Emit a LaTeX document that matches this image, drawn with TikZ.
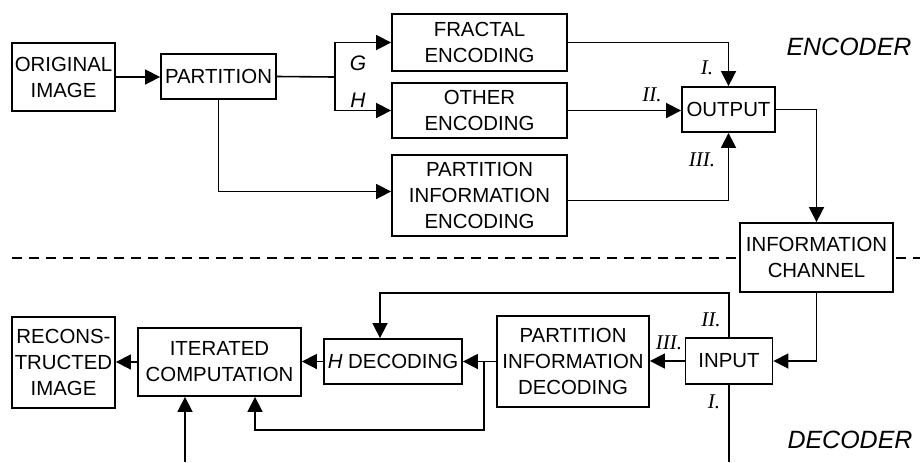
\documentclass[tikz,border=0pt]{standalone}
\usepackage{fontspec}
\setmainfont{Liberation Serif}
\setsansfont{Liberation Sans}
\usetikzlibrary{arrows.meta}
\usetikzlibrary{calc}

\begin{document}
\begin{tikzpicture}[x=0.5pt,y=-0.5pt,
  blk/.style={draw,line width=0.9pt,fill=white,align=center,inner sep=1pt,
    font=\sffamily\fontsize{10.2}{13}\selectfont},
  wire/.style={line width=0.8pt},
  flow/.style={wire,-{Triangle[length=7.5pt,width=7.5pt]}},
  lab/.style={font=\itshape\fontsize{10.5}{11}\selectfont},
  gh/.style={font=\sffamily\itshape\fontsize{10.5}{12}\selectfont},
  side/.style={font=\sffamily\itshape\fontsize{12.5}{14}\selectfont}]
\useasboundingbox (0,0) rectangle (920,462);
% separator encoder / decoder
\coordinate (sepl) at (12,258);
\coordinate (sepr) at (920,258);
\draw[wire,dash pattern=on 5pt off 3.5pt] (sepl) -- (sepr);
% encoder
\node[blk,minimum width=51.5pt,minimum height=34pt] (orig) at (63.5,77) {ORIGINAL\\IMAGE};
\node[blk,minimum width=57.5pt,minimum height=22.5pt] (part) at (218.5,76.5) {PARTITION};
\node[blk,minimum width=87.5pt,minimum height=28.5pt] (fract) at (479.5,42.5) {FRACTAL\\ENCODING};
\node[blk,minimum width=87.5pt,minimum height=27.5pt] (other) at (479.5,110.5) {OTHER\\ENCODING};
\node[blk,minimum width=87.5pt,minimum height=40.5pt] (pie) at (479.5,195.5) {PARTITION\\INFORMATION\\ENCODING};
\node[blk,minimum width=46.5pt,minimum height=22.5pt] (output) at (728.5,109.5) {OUTPUT};
\node[blk,minimum width=76.5pt,minimum height=34.5pt] (chan) at (816.5,257.5) {INFORMATION\\CHANNEL};
% decoder
\node[blk,minimum width=43.5pt,minimum height=23pt] (input) at (729,361) {INPUT};
\node[blk,minimum width=76pt,minimum height=45.5pt] (pid) at (573,361.5) {PARTITION\\INFORMATION\\DECODING};
\node[blk,minimum width=69pt,minimum height=22.5pt] (hdec) at (393,361.5) {\textit{H} DECODING};
\node[blk,minimum width=81.5pt,minimum height=34pt] (iter) at (219.5,362) {ITERATED\\COMPUTATION};
\node[blk,minimum width=51.5pt,minimum height=45.5pt] (recon) at (63.5,362.5) {RECONS-\\TRUCTED\\IMAGE};

\node[side] (enc) at (849,47) {ENCODER};
\node[side] (dec) at (850,440) {DECODER};
\node[gh] (g) at (358,63) {G};
\node[gh] (h) at (358,100) {H};
\node[lab] (e1) at (707,68) {I.};
\node[lab] (e2) at (652,95) {II.};
\node[lab] (e3) at (702,160) {III.};
\node[lab] (d2) at (711,320) {II.};
\node[lab] (d3) at (669,343) {III.};
\node[lab] (d1) at (714,402) {I.};

% encoder connectors
\draw[flow] (orig.east) -- (orig.east -| part.west);
\coordinate (split) at (335,77);
\draw[wire] (part.east) -- (split);
\draw[flow] (split) |- (fract.west);
\draw[flow] (split) |- (other.west);
\draw[flow] (part.south) |- ([yshift=2pt]pie.west);
\draw[flow] (fract.east) -| (output.north);
\draw[flow] (other.east) -- (other.east -| output.west);
\draw[flow] ([yshift=-2.5pt]pie.east) -| (output.south);
\draw[flow] (output.east) -| (chan.north);
% decoder connectors
\draw[flow] (chan.south) |- (input.east);
\draw[flow] (input.west) -- (input.west -| pid.east);
\coordinate (hbend) at (380,293);
\draw[flow] (input.north) |- (hbend) -- (hbend |- hdec.north);
\coordinate (ibot) at (input.south |- 0,462);
\draw[wire] (input.south) -- (ibot);
\coordinate (cbot) at (185,462);
\draw[flow] (cbot) -- (cbot |- iter.south);
\coordinate (join) at ($(pid.west)+(-6pt,0)$);
\draw[wire] (pid.west) -- (join);
\draw[flow] (join) -- (join -| hdec.east);
\coordinate (jlow) at (255,430);
\draw[flow] (join) |- (jlow) -- (jlow |- iter.south);
\draw[flow] (hdec.west) -- (hdec.west -| iter.east);
\draw[flow] (iter.west) -- (iter.west -| recon.east);
\end{tikzpicture}
\end{document}
